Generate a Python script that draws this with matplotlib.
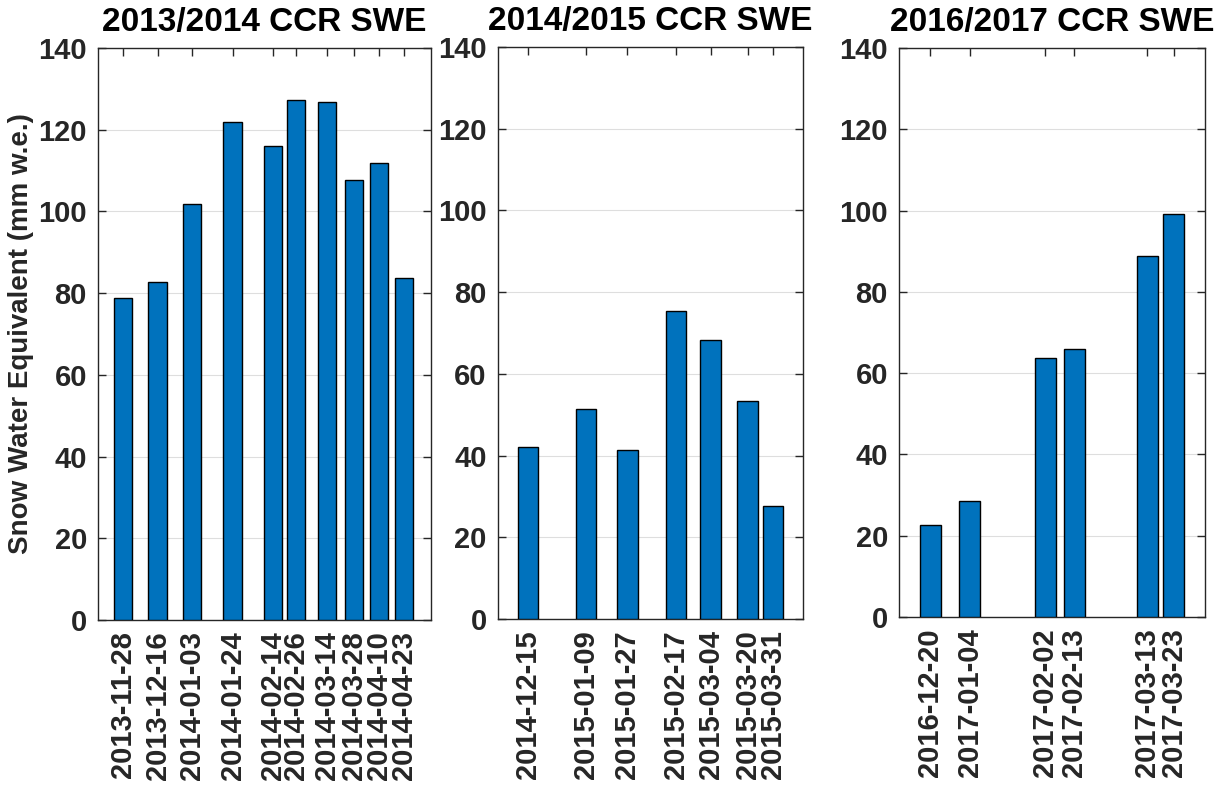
import matplotlib
matplotlib.use("Agg")
import matplotlib.pyplot as plt
import matplotlib.dates as mdates
import numpy as np
import datetime as dt

plt.rcParams['font.family'] = ['Liberation Sans', 'DejaVu Sans']
plt.rcParams['font.weight'] = 'bold'

titles = ["2013/2014 CCR SWE", "2014/2015 CCR SWE", "2016/2017 CCR SWE"]

dates_1 = ["2013-11-28", "2013-12-16", "2014-01-03", "2014-01-24", "2014-02-14",
           "2014-02-26", "2014-03-14", "2014-03-28", "2014-04-10", "2014-04-23"]
swe_1 = [78.8, 82.7, 101.8, 121.9, 116.1, 127.3, 126.8, 107.6, 111.9, 83.7]

dates_2 = ["2014-12-15", "2015-01-09", "2015-01-27", "2015-02-17", "2015-03-04",
           "2015-03-20", "2015-03-31"]
swe_2 = [42.0, 51.4, 41.3, 75.3, 68.3, 53.3, 27.6]

dates_3 = ["2016-12-20", "2017-01-04", "2017-02-02", "2017-02-13", "2017-03-13",
           "2017-03-23"]
swe_3 = [22.6, 28.5, 63.7, 65.9, 88.8, 99.2]

xlims = [("2013-11-15", "2014-05-07"), ("2014-12-02", "2015-04-13"), ("2016-12-08", "2017-04-04")]
yticks = [0, 20, 40, 60, 80, 100, 120, 140]

positions = [
    [0.0800, 0.2122, 0.2716, 0.7268],
    [0.4065, 0.2135, 0.2490, 0.7268],
    [0.7339, 0.2160, 0.2498, 0.7230],
]

fig = plt.figure(figsize=(12.25, 7.87), dpi=100)
axcol = '#262626'
barcol = '#0072BD'

for i, (dates, vals) in enumerate([(dates_1, swe_1), (dates_2, swe_2), (dates_3, swe_3)]):
    ax = fig.add_axes(positions[i])
    d = [dt.datetime.strptime(s, "%Y-%m-%d") for s in dates]
    x = mdates.date2num(d)
    width = 0.8 * np.min(np.diff(x))
    ax.bar(x, vals, width=width, color=barcol, edgecolor='black', linewidth=1.0, zorder=3)
    ax.set_xlim(mdates.date2num(dt.datetime.strptime(xlims[i][0], "%Y-%m-%d")),
                mdates.date2num(dt.datetime.strptime(xlims[i][1], "%Y-%m-%d")))
    ax.set_ylim(0, 140)
    ax.set_yticks(yticks)
    ax.set_xticks(x)
    ax.set_xticklabels(dates, rotation=90, fontsize=21, fontweight='bold', color=axcol)
    ax.set_yticklabels([str(t) for t in yticks], fontsize=21, fontweight='bold', color=axcol)
    ax.yaxis.grid(True, color='#dedede', linewidth=0.8, zorder=0)
    ax.set_axisbelow(True)
    ax.tick_params(direction='in', top=True, right=True, length=6, width=1.0,
                   color=axcol, pad=8)
    for sp in ax.spines.values():
        sp.set_color(axcol)
        sp.set_linewidth(1.0)
    ax.set_title(titles[i], fontsize=24, fontweight='bold', color='black', pad=12)
    if i == 0:
        ax.set_ylabel("Snow Water Equivalent (mm w.e.)", fontsize=20, fontweight='bold',
                      color=axcol, labelpad=3)

fig.savefig("out.png", dpi=100)
